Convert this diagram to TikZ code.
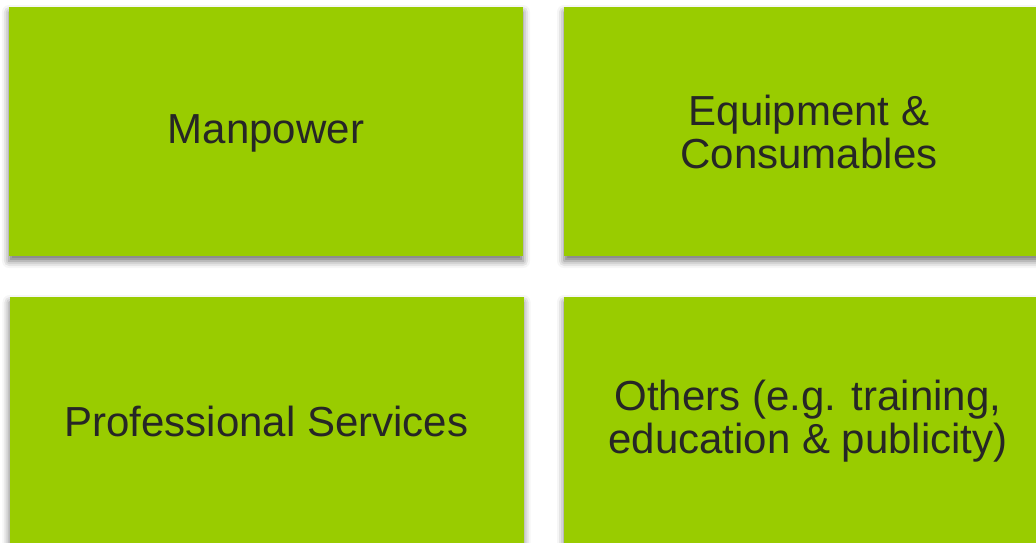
\documentclass[tikz,border=0pt]{standalone}
\usepackage{fontspec}
\setmainfont{Liberation Sans}
\usetikzlibrary{shadows.blur}
\definecolor{blockgreen}{HTML}{99CC00}
\definecolor{blockink}{HTML}{262626}
\tikzstyle{block}=[fill=blockgreen, minimum width=514pt, minimum height=249pt, inner sep=0,
  blur shadow={shadow xshift=0pt, shadow yshift=-5pt, shadow blur radius=7pt, shadow opacity=55}]
\tikzstyle{block text}=[text=blockink, align=center, inner sep=0, font=\fontsize{42}{43}\selectfont]

\begin{document}
\begin{tikzpicture}[x=1pt, y=-1pt]
      \useasboundingbox (0, 0) rectangle (1036, 542);

      \node[block] (manpower) at (266, 131.5) {};
      \node[block] (equipment) at (821, 131.5) {};
      \node[block] (services) at (266.5, 421.5) {};
      \node[block] (others) at (821, 421.5) {};

      \node[block text, yshift=-2pt] (manpower text) at (manpower) {Manpower};
      \node[block text, xshift=-12pt] (equipment text) at (equipment) {Equipment \&\\Consumables};
      \node[block text] (services text) at (services) {Professional Services};
      \node[block text, xshift=-13pt] (others text) at (others) {Others (e.g. training,\\education \& publicity)};
    \end{tikzpicture}
\end{document}
